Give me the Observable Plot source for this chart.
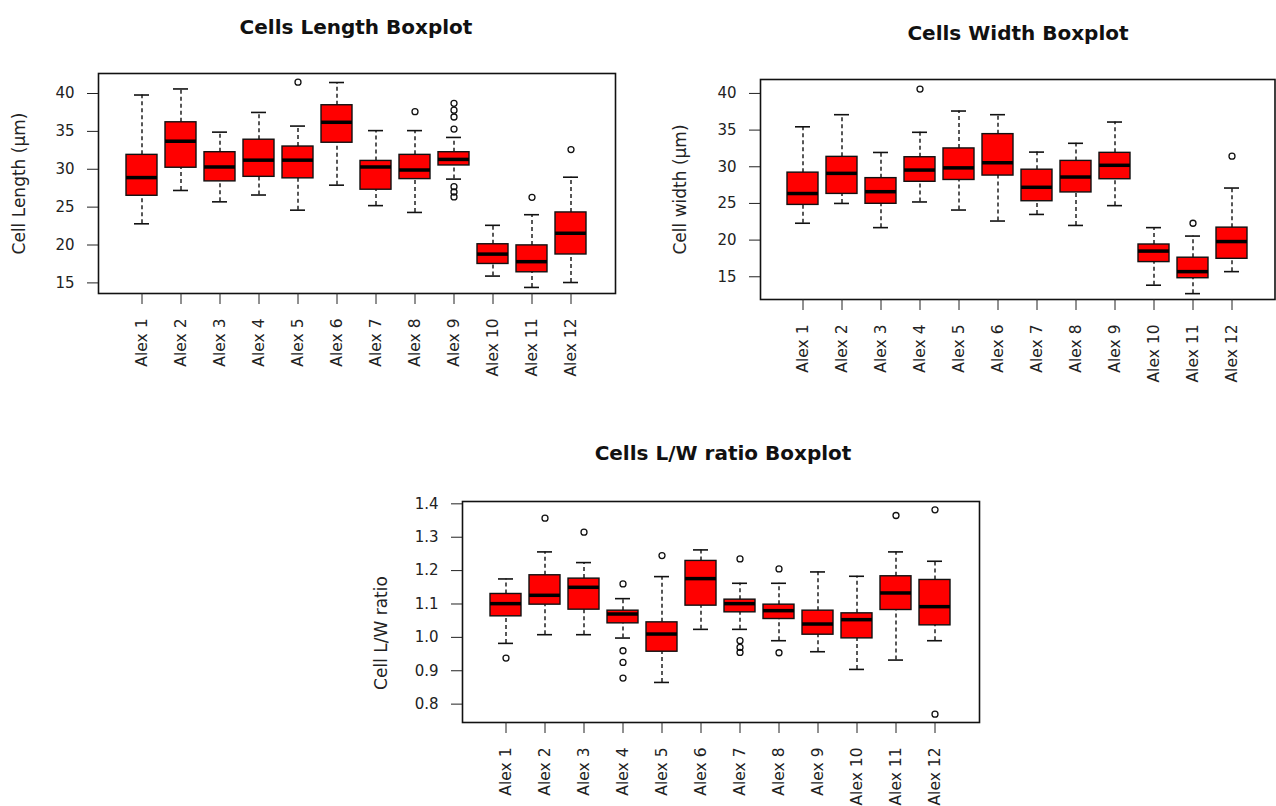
<!DOCTYPE html>
<html>
<head>
<meta charset="utf-8">
<script src="https://cdn.jsdelivr.net/npm/d3@7"></script>
<script src="https://cdn.jsdelivr.net/npm/@observablehq/plot@0.6"></script>
<style>
  html, body { margin: 0; padding: 0; background: #fff; }
  #page { position: relative; width: 1276px; height: 806px; overflow: hidden; background: #fff; font-family: "DejaVu Sans", sans-serif; }
  .chart { position: absolute; z-index: 1; }
  .title { position: absolute; z-index: 2; width: 420px; text-align: center; font-family: "DejaVu Sans", sans-serif; font-weight: bold; font-size: 20px; line-height: 20px; color: #111; white-space: nowrap; }
</style>
</head>
<body>
<div id="page">
  <div class="chart" id="c1" style="left:0px; top:0px;"></div>
  <div class="chart" id="c2" style="left:660px; top:0px;"></div>
  <div class="chart" id="c3" style="left:362px; top:400px;"></div>
  <div class="title" style="left:146px; top:17px;">Cells Length Boxplot</div>
  <div class="title" style="left:808px; top:23px;">Cells Width Boxplot</div>
  <div class="title" style="left:513px; top:443px;">Cells L/W ratio Boxplot</div>
</div>
<script>
// Categories
const names = ["Alex 1","Alex 2","Alex 3","Alex 4","Alex 5","Alex 6","Alex 7","Alex 8","Alex 9","Alex 10","Alex 11","Alex 12"];

// Cell length (µm): whisker low, Q1, median, Q3, whisker high, outliers
const lengthLow = [22.8, 27.2, 25.7, 26.6, 24.6, 27.9, 25.2, 24.3, 28.7, 15.9, 14.4, 15.05];
const lengthQ1  = [26.5, 30.2, 28.4, 29.0, 28.8, 33.5, 27.3, 28.7, 30.5, 17.5, 16.4, 18.75];
const lengthMed = [28.9, 33.7, 30.3, 31.2, 31.2, 36.2, 30.3, 29.9, 31.3, 18.8, 17.8, 21.55];
const lengthQ3  = [31.9, 36.2, 32.25, 33.9, 33.0, 38.45, 31.1, 31.9, 32.25, 20.1, 19.95, 24.3];
const lengthHigh= [39.8, 40.6, 34.9, 37.5, 35.7, 41.45, 35.1, 35.1, 34.2, 22.6, 24.0, 28.95];
const lengthOut = [[], [], [], [], [41.5], [], [], [37.6], [38.7, 37.8, 36.9, 35.3, 27.7, 27.0, 26.35], [], [26.3], [32.6]];
const lengthTicks = [15, 20, 25, 30, 35, 40];

// Cell width (µm)
const widthLow = [22.3, 25.0, 21.7, 25.2, 24.1, 22.6, 23.5, 22.0, 24.7, 13.85, 12.7, 15.7];
const widthQ1  = [24.8, 26.3, 24.95, 27.95, 28.2, 28.8, 25.3, 26.5, 28.3, 17.0, 14.8, 17.45];
const widthMed = [26.35, 29.1, 26.6, 29.55, 29.85, 30.55, 27.2, 28.6, 30.2, 18.5, 15.7, 19.8];
const widthQ3  = [29.2, 31.35, 28.45, 31.3, 32.5, 34.45, 29.6, 30.8, 31.9, 19.4, 17.6, 21.7];
const widthHigh= [35.45, 37.1, 31.95, 34.7, 37.6, 37.1, 32.0, 33.2, 36.1, 21.7, 20.55, 27.1];
const widthOut = [[], [], [], [40.6], [], [], [], [], [], [], [22.3], [31.45]];
const widthTicks = [15, 20, 25, 30, 35, 40];

// L/W ratio
const ratioLow = [0.982, 1.008, 1.008, 0.998, 0.865, 1.024, 1.024, 0.99, 0.957, 0.904, 0.932, 0.99];
const ratioQ1  = [1.063, 1.098, 1.083, 1.042, 0.957, 1.095, 1.075, 1.055, 1.008, 0.997, 1.082, 1.036];
const ratioMed = [1.101, 1.126, 1.15, 1.07, 1.01, 1.176, 1.101, 1.08, 1.04, 1.053, 1.133, 1.092];
const ratioQ3  = [1.13, 1.186, 1.176, 1.08, 1.045, 1.229, 1.113, 1.098, 1.08, 1.072, 1.183, 1.172];
const ratioHigh= [1.175, 1.256, 1.224, 1.116, 1.182, 1.262, 1.162, 1.162, 1.196, 1.183, 1.256, 1.228];
const ratioOut = [[0.938], [1.357], [1.315], [1.16, 0.96, 0.925, 0.878], [1.245], [], [1.235, 0.99, 0.97, 0.955], [1.205, 0.954], [], [], [1.365], [1.382, 0.77]];
const ratioTicks = [0.8, 0.9, 1.0, 1.1, 1.2, 1.3, 1.4];

function boxChart(cfg) {
  const rows = names.map((name, i) => ({name, lo: cfg.lo[i], q1: cfg.q1[i], med: cfg.med[i], q3: cfg.q3[i], hi: cfg.hi[i]}));
  const outRows = names.flatMap((name, i) => cfg.out[i].map(v => ({name, v})));
  return Plot.plot({
    width: cfg.width,
    height: cfg.height,
    marginLeft: cfg.ml, marginRight: cfg.mr, marginTop: cfg.mt, marginBottom: cfg.mb,
    style: {fontFamily: "DejaVu Sans, sans-serif", fontSize: "15px", color: "#222", background: "transparent", overflow: "visible"},
    x: {type: "band", domain: names, paddingInner: 0.2, paddingOuter: 0.58},
    y: {domain: cfg.yDomain},
    marks: [
      Plot.ruleX(rows, {x: "name", y1: "q3", y2: "hi", stroke: "#111", strokeWidth: 1.4, strokeDasharray: "4,3"}),
      Plot.ruleX(rows, {x: "name", y1: "lo", y2: "q1", stroke: "#111", strokeWidth: 1.4, strokeDasharray: "4,3"}),
      Plot.tickY(rows, {x: "name", y: "hi", stroke: "#111", strokeWidth: 1.6, insetLeft: 8, insetRight: 8}),
      Plot.tickY(rows, {x: "name", y: "lo", stroke: "#111", strokeWidth: 1.6, insetLeft: 8, insetRight: 8}),
      Plot.barY(rows, {x: "name", y1: "q1", y2: "q3", fill: "#ff0000", stroke: "#111", strokeWidth: 1.4}),
      Plot.tickY(rows, {x: "name", y: "med", stroke: "#000", strokeWidth: 3.5}),
      Plot.dot(outRows, {x: "name", y: "v", r: 3, stroke: "#111", strokeWidth: 1.3, fill: "none"}),
      Plot.frame({stroke: "#111", strokeWidth: 1.6}),
      Plot.axisY({ticks: cfg.ticks, tickFormat: cfg.fmt, tickSize: 11, tickPadding: 13, label: null, fontSize: 15}),
      Plot.axisX({tickRotate: -90, tickSize: 11, tickPadding: 14, label: null, fontSize: 15.5}),
      Plot.text([cfg.ylabel], {text: d => d, frameAnchor: "left", textAnchor: "middle", lineAnchor: "middle", rotate: -90, dx: cfg.ldx, dy: cfg.ldy, fontSize: 17, fill: "#222"})
    ]
  });
}

document.getElementById("c1").append(boxChart({
  lo: lengthLow, q1: lengthQ1, med: lengthMed, q3: lengthQ3, hi: lengthHigh, out: lengthOut,
  ticks: lengthTicks, fmt: d => String(d), yDomain: [13.6, 42.64], ylabel: "Cell Length (µm)",
  width: 640, height: 400, ml: 98, mr: 25, mt: 73, mb: 107, ldx: -79, ldy: 0
}));
document.getElementById("c2").append(boxChart({
  lo: widthLow, q1: widthQ1, med: widthMed, q3: widthQ3, hi: widthHigh, out: widthOut,
  ticks: widthTicks, fmt: d => String(d), yDomain: [11.9, 41.9], ylabel: "Cell width (µm)",
  width: 616, height: 400, ml: 100, mr: 1.5, mt: 79, mb: 101, ldx: -80, ldy: 0
}));
document.getElementById("c3").append(boxChart({
  lo: ratioLow, q1: ratioQ1, med: ratioMed, q3: ratioQ3, hi: ratioHigh, out: ratioOut,
  ticks: ratioTicks, fmt: d => d.toFixed(1), yDomain: [0.745, 1.407], ylabel: "Cell L/W ratio",
  width: 640, height: 406, ml: 100, mr: 23, mt: 101, mb: 84, ldx: -81, ldy: 21
}));
</script>
</body>
</html>
